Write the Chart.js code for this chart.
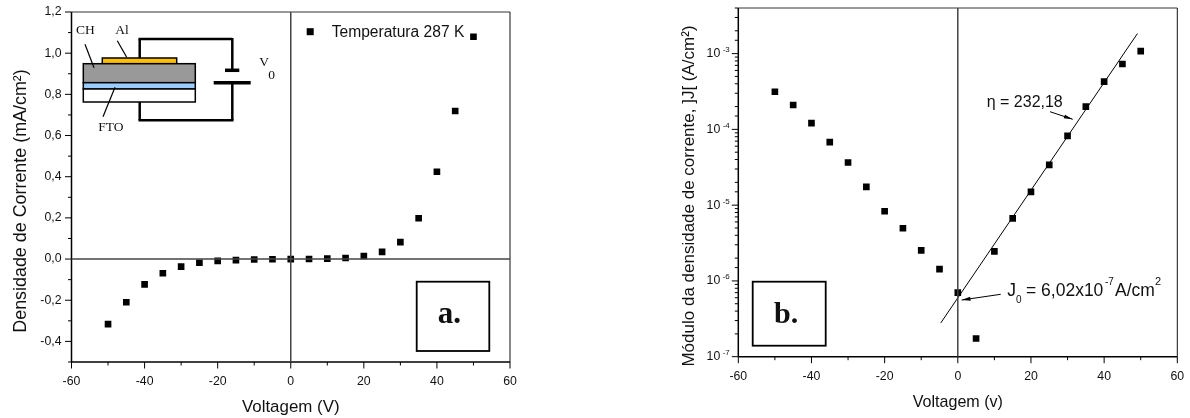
<!DOCTYPE html>
<html>
<head>
<meta charset="utf-8">
<script src="https://cdn.jsdelivr.net/npm/chart.js@4"></script>
<style>
  html, body { margin: 0; background: #fff; overflow: hidden; }
  canvas { position: absolute; top: 0; }
  #chartA { left: 0; }
  #chartB { left: 595px; }
</style>
</head>
<body>
<canvas id="chartA" width="595" height="418"></canvas>
<canvas id="chartB" width="595" height="418"></canvas>
<script>
const voltages = [-50, -45, -40, -35, -30, -25, -20, -15, -10, -5, 0, 5, 10, 15, 20, 25, 30, 35, 40, 45, 50];
const currentDensity = [-0.316, -0.21, -0.123, -0.069, -0.037, -0.018, -0.009, -0.005, -0.002, -0.001, 0, 0.0005, 0.002, 0.005, 0.015, 0.035, 0.082, 0.198, 0.424, 0.719, 1.08];
const currentModulus = [3.14e-4, 2.1e-4, 1.21e-4, 6.8e-5, 3.66e-5, 1.74e-5, 8.3e-6, 4.95e-6, 2.53e-6, 1.43e-6, 7.0e-7, 1.74e-7, 2.45e-6, 6.7e-6, 1.5e-5, 3.4e-5, 8.2e-5, 2.0e-4, 4.27e-4, 7.3e-4, 1.08e-3];
const fitVoltages = [-4.65, 49.1];
const fitValues = [2.79e-7, 1.84e-3];

const SANS = '"Liberation Sans", Arial, sans-serif';
const SERIF = '"Liberation Serif", serif';
const INK = '#111';

function text(ctx, str, x, y, size, family, bold) {
  ctx.font = (bold ? 'bold ' : '') + size + 'px ' + family;
  ctx.fillStyle = INK;
  ctx.textAlign = 'left';
  ctx.textBaseline = 'alphabetic';
  ctx.fillText(str, x, y);
}

function vText(ctx, str, x, y, size) {
  ctx.save();
  ctx.translate(x, y);
  ctx.rotate(-Math.PI / 2);
  ctx.font = size + 'px ' + SANS;
  ctx.fillStyle = INK;
  ctx.textAlign = 'center';
  ctx.textBaseline = 'middle';
  ctx.fillText(str, 0, 0);
  ctx.restore();
}

function seg(ctx, x1, y1, x2, y2, width, color) {
  ctx.beginPath();
  ctx.moveTo(x1, y1);
  ctx.lineTo(x2, y2);
  ctx.lineWidth = width;
  ctx.strokeStyle = color || '#000';
  ctx.stroke();
}

function arrow(ctx, x1, y1, x2, y2) {
  seg(ctx, x1, y1, x2, y2, 1);
  const a = Math.atan2(y2 - y1, x2 - x1);
  ctx.beginPath();
  ctx.moveTo(x2, y2);
  ctx.lineTo(x2 - 9 * Math.cos(a - 0.22), y2 - 9 * Math.sin(a - 0.22));
  ctx.lineTo(x2 - 9 * Math.cos(a + 0.22), y2 - 9 * Math.sin(a + 0.22));
  ctx.closePath();
  ctx.fillStyle = '#000';
  ctx.fill();
}

function box(ctx, x1, y1, x2, y2, fill, width) {
  if (fill) {
    ctx.fillStyle = fill;
    ctx.fillRect(x1, y1, x2 - x1, y2 - y1);
  }
  ctx.lineWidth = width;
  ctx.strokeStyle = '#000';
  ctx.strokeRect(x1, y1, x2 - x1, y2 - y1);
}

// axis frame and ticks, long on labelled values and short on the others
function drawFrame(ctx, chart, isMajorY) {
  const { x, y } = chart.scales;
  const a = chart.chartArea;
  x.ticks.forEach(t => {
    const px = x.getPixelForValue(t.value);
    seg(ctx, px, a.bottom, px, a.bottom + (t.value % 20 === 0 ? 6.5 : 3.5), 1);
  });
  y.ticks.forEach(t => {
    const py = y.getPixelForValue(t.value);
    seg(ctx, a.left, py, a.left - (isMajorY(t.value) ? 6.5 : 3.5), py, 1);
  });
  seg(ctx, a.left, a.top, a.right, a.top, 1, '#333');
  seg(ctx, a.right, a.top, a.right, a.bottom, 1, '#111');
  seg(ctx, a.left, a.top, a.left, a.bottom, 1.5);
  seg(ctx, a.left, a.bottom, a.right, a.bottom, 1.5);
  const zero = x.getPixelForValue(0);
  seg(ctx, zero, a.top, zero, a.bottom, 1.5, '#444');
}

function diagram(ctx) {
  seg(ctx, 139.7, 63, 139.7, 39, 2.5);
  seg(ctx, 138.5, 39, 232.3, 39, 2.5);
  seg(ctx, 232.3, 38, 232.3, 70, 2.5);
  seg(ctx, 225, 70.3, 239.3, 70.3, 3.5);
  seg(ctx, 213.7, 82.7, 250.7, 82.7, 3.5);
  seg(ctx, 232.3, 82.7, 232.3, 120.3, 2.5);
  seg(ctx, 233.5, 120.3, 138.5, 120.3, 2.5);
  seg(ctx, 139.7, 120.3, 139.7, 102, 2.5);
  box(ctx, 102.3, 58, 176.7, 63.7, '#ffc000', 1.5);
  box(ctx, 83.3, 63.7, 195.3, 82.7, '#999999', 1.5);
  box(ctx, 83.3, 82.7, 195.3, 89, '#99ccff', 1.5);
  box(ctx, 83.3, 89, 195.3, 102, '#ffffff', 1.5);
  seg(ctx, 85, 44.3, 94, 67.7, 1.2);
  seg(ctx, 117.3, 40.7, 126.7, 57.3, 1.2);
  seg(ctx, 115, 87.3, 103, 116.7, 1.2);
  text(ctx, 'CH', 76, 34, 13.5, SERIF);
  text(ctx, 'Al', 115.3, 34, 13.5, SERIF);
  text(ctx, 'FTO', 98.3, 131, 13.5, SERIF);
  text(ctx, 'V', 259.3, 65.7, 13.5, SERIF);
  text(ctx, '0', 268.3, 79, 13.5, SERIF);
}

const overlayA = {
  id: 'overlayA',
  afterDraw(chart) {
    const ctx = chart.ctx;
    ctx.save();
    drawFrame(ctx, chart, v => Math.round(v * 10) % 2 === 0);
    const { y } = chart.scales;
    seg(ctx, chart.chartArea.left, y.getPixelForValue(0), chart.chartArea.right, y.getPixelForValue(0), 1.5, '#444');
    diagram(ctx);
    ctx.fillStyle = '#000';
    ctx.fillRect(306.7, 28.2, 7, 7);
    text(ctx, chart.data.datasets[0].label, 331.7, 37, 15.6, SANS);
    box(ctx, 416.7, 281.7, 489.3, 351, null, 1.8);
    text(ctx, 'a.', 437.7, 323.3, 31, SERIF, true);
    vText(ctx, 'Densidade de Corrente (mA/cm²)', 21.5, 201, 17.9);
    ctx.restore();
  }
};

const overlayB = {
  id: 'overlayB',
  afterDraw(chart) {
    const ctx = chart.ctx;
    ctx.save();
    drawFrame(ctx, chart, isDecade);
    const { y } = chart.scales;
    y.ticks.filter(t => isDecade(t.value)).forEach(t => {
      const exp = Math.round(Math.log10(t.value));
      text(ctx, String(exp), 127.7, y.getPixelForValue(t.value) - 1.5, 8, SANS);
    });
    box(ctx, 157.7, 281.7, 230.7, 345.7, null, 1.8);
    text(ctx, 'b.', 179, 323.3, 30, SERIF, true);
    vText(ctx, 'Módulo da densidade de corrente, ]J[ (A/cm²)', 94.5, 196, 17);
    text(ctx, 'η = 232,18', 391.7, 106.7, 16, SANS);
    arrow(ctx, 455, 111.7, 477.7, 119.3);
    text(ctx, 'J', 412.3, 296, 17.5, SANS);
    text(ctx, '0', 421, 302.7, 10, SANS);
    text(ctx, '= 6,02x10', 431, 296, 17.5, SANS);
    text(ctx, '-7', 510, 285, 10, SANS);
    text(ctx, 'A/cm', 520, 296, 17.5, SANS);
    text(ctx, '2', 560, 285, 11, SANS);
    arrow(ctx, 405.7, 294.3, 366.7, 300);
    ctx.restore();
  }
};

function isDecade(v) {
  return Math.abs(Math.log10(v) - Math.round(Math.log10(v))) < 1e-6;
}

function points(xs, ys) {
  return xs.map((v, i) => ({ x: v, y: ys[i] }));
}

function xAxis(title, titleSize, height, tickPad, titlePad) {
  return {
    type: 'linear', min: -60, max: 60,
    grid: { display: false, drawTicks: false },
    border: { display: false },
    afterFit(s) { s.height = height; s.paddingLeft = 0; s.paddingRight = 0; },
    ticks: {
      stepSize: 10, autoSkip: false, maxRotation: 0, padding: tickPad,
      color: INK, font: { family: SANS, size: 12.3 },
      callback: v => (v % 20 === 0 ? String(v) : '')
    },
    title: { display: true, text: title, color: INK, font: { family: SANS, size: titleSize }, padding: { top: 0, bottom: titlePad } }
  };
}

const markerStyle = { showLine: false, pointStyle: 'rect', pointRadius: 4.7, pointHoverRadius: 4.7, backgroundColor: '#000', borderWidth: 0 };

new Chart(document.getElementById('chartA'), {
  type: 'scatter',
  data: { datasets: [Object.assign({ label: 'Temperatura 287 K', data: points(voltages, currentDensity) }, markerStyle)] },
  options: {
    responsive: false, animation: false, devicePixelRatio: 1,
    layout: { padding: { left: 0, top: 12, right: 85, bottom: 0 } },
    plugins: { legend: { display: false }, tooltip: { enabled: false } },
    scales: {
      x: xAxis('Voltagem (V)', 16.9, 56, 12, 1),
      y: {
        type: 'linear', min: -0.5, max: 1.2,
        grid: { display: false, drawTicks: false },
        border: { display: false },
        afterFit(s) { s.width = 71.5; s.paddingTop = 0; s.paddingBottom = 0; },
        ticks: {
          stepSize: 0.1, autoSkip: false, padding: 10,
          color: INK, font: { family: SANS, size: 12.3 },
          callback: v => {
            if (Math.round(v * 10) % 2 !== 0) return '';
            return Math.abs(v) < 1e-9 ? '0,0' : v.toFixed(1).replace('.', ',');
          }
        }
      }
    }
  },
  plugins: [overlayA]
});

new Chart(document.getElementById('chartB'), {
  type: 'scatter',
  data: {
    datasets: [
      Object.assign({ label: 'Módulo', data: points(voltages, currentModulus) }, markerStyle),
      { label: 'Ajuste', data: points(fitVoltages, fitValues), showLine: true, borderColor: '#000', borderWidth: 1, pointRadius: 0 }
    ]
  },
  options: {
    responsive: false, animation: false, devicePixelRatio: 1,
    layout: { padding: { left: 0, top: 8, right: 12.7, bottom: 0 } },
    plugins: { legend: { display: false }, tooltip: { enabled: false } },
    scales: {
      x: xAxis('Voltagem (v)', 16.1, 61.3, 13, 5.5),
      y: {
        type: 'logarithmic', min: 1e-7, max: 4e-3,
        grid: { display: false, drawTicks: false },
        border: { display: false },
        afterFit(s) { s.width = 143.3; s.paddingTop = 0; s.paddingBottom = 0; },
        ticks: {
          autoSkip: false, padding: 18,
          color: INK, font: { family: SANS, size: 12.3 },
          callback: v => (isDecade(v) ? '10' : '')
        }
      }
    }
  },
  plugins: [overlayB]
});
</script>
</body>
</html>
